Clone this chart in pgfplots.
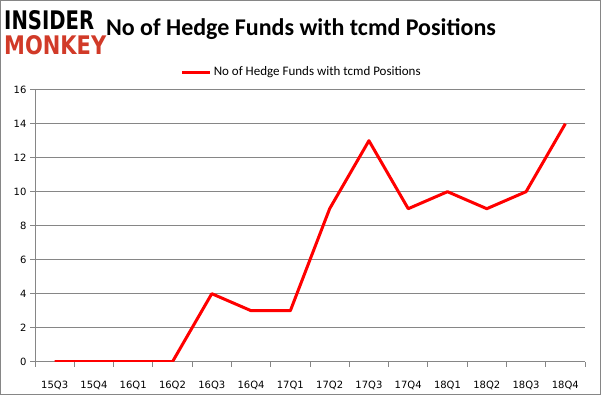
\documentclass[border=0pt]{standalone}
\usepackage{pgfplots}
\pgfplotsset{compat=1.18}
\usepackage{fontspec}
\setmainfont{Carlito}
\newfontfamily\tickfont{DejaVu Sans}
\newfontfamily\logofont{DejaVu Sans}
\definecolor{gridgray}{RGB}{134,134,134}
\definecolor{lineRed}{RGB}{255,0,0}
\definecolor{logoRed}{RGB}{209,58,40}
\begin{document}
\begin{tikzpicture}[x=1pt,y=1pt]
\useasboundingbox (0,0) rectangle (601,395);
\draw[gridgray, line width=1pt] (0.5,0.5) rectangle (600.5,394.5);
\node[anchor=west, inner sep=0] at (4,374.5) {\resizebox{90pt}{19pt}{\logofont\bfseries INSIDER}};
\node[anchor=west, inner sep=0] at (4,350) {\resizebox{102pt}{19pt}{\logofont\bfseries\color{logoRed}MONKEY}};
\node at (301,366) {\fontsize{24}{28}\selectfont\bfseries No of Hedge Funds with tcmd Positions};
\begin{axis}[
  at={(35pt,33.3pt)}, anchor=south west, scale only axis,
  width=550pt, height=272pt,
  xmin=-0.5, xmax=13.5, ymin=0, ymax=16,
  xtick={-0.5,0.5,1.5,2.5,3.5,4.5,5.5,6.5,7.5,8.5,9.5,10.5,11.5,12.5,13.5},
  x tick label as interval,
  xticklabels={15Q3,15Q4,16Q1,16Q2,16Q3,16Q4,17Q1,17Q2,17Q3,17Q4,18Q1,18Q2,18Q3,18Q4},
  ytick={0,2,...,16},
  axis x line=bottom, axis y line=left,
  axis line style={gridgray, line width=0.8pt, -},
  ymajorgrids, grid style={gridgray, line width=0.8pt},
  tick align=outside, major tick length=5pt,
  tick style={gridgray, line width=0.8pt},
  ticklabel style={font=\tickfont\fontsize{10}{12}\selectfont, text=black},
  xticklabel style={yshift=-11pt},
  /pgf/number format/assume math mode=true,
  legend style={at={(0.485,1.065)}, anchor=center, draw=none, fill=none,
    font=\fontsize{13}{15}\selectfont, inner sep=0pt},
  legend image code/.code={\draw[#1, line width=3pt] (0pt,0pt) -- (28pt,0pt);},
]
\addplot[lineRed, line width=3pt, line join=round] coordinates {
(0,0) (1,0) (2,0) (3,0) (4,4) (5,3) (6,3) (7,9) (8,13) (9,9) (10,10) (11,9) (12,10) (13,14)
};
\addlegendentry{No of Hedge Funds with tcmd Positions}
\end{axis}
\end{tikzpicture}
\end{document}
